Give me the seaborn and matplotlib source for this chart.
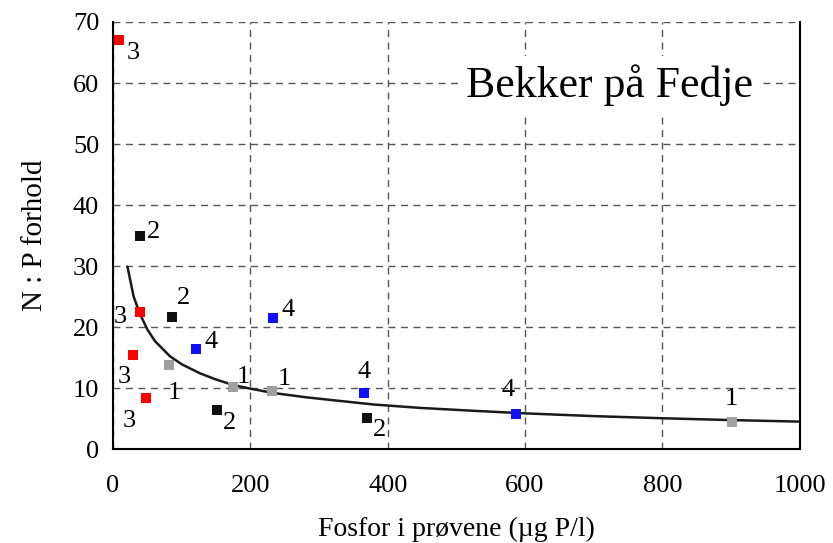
import numpy as np
import pandas as pd
import matplotlib
matplotlib.use('Agg')
import matplotlib.pyplot as plt
import seaborn as sns

# data
fosfor = [9, 39, 29, 48, 39, 86, 151, 370, 121, 233, 365, 587, 81, 175, 231, 901]
np_ratio = [67.0, 22.5, 15.4, 8.4, 34.9, 21.6, 6.4, 5.1, 16.4, 21.5, 9.2, 5.8, 13.8, 10.2, 9.5, 4.4]
bekk = ['3', '3', '3', '3', '2', '2', '2', '2', '4', '4', '4', '4', '1', '1', '1', '1']

# trend curve
curve_x = [21, 30, 39, 50, 61, 83, 100, 127, 150, 175, 200, 233, 280, 321, 380, 447, 520, 600, 700, 800, 900, 1000]
curve_y = [29.9, 25.0, 22.2, 19.6, 17.7, 15.2, 13.9, 12.4, 11.4, 10.5, 9.9, 9.2, 8.5, 8.0, 7.3, 6.75, 6.3, 5.85, 5.4, 5.05, 4.75, 4.5]

x_ticks = [0, 200, 400, 600, 800, 1000]
y_ticks = [0, 10, 20, 30, 40, 50, 60, 70]

# label offsets (points)
offsets = [(10, -9), (-14, -4), (-6, -16), (-12, -17),
           (10, 3), (8, 14), (9, -9), (9, -9),
           (11, 5), (11, 6), (0, 15), (-6, 17),
           (4, -20), (7, 7), (9, 9), (0, 17)]

df = pd.DataFrame({'Fosfor': fosfor, 'NP': np_ratio, 'Bekk': bekk})
pal = {'1': '#a0a0a0', '2': '#111111', '3': '#ff0000', '4': '#1010ff'}

sns.set_style('white')
plt.rcParams['font.family'] = ['Liberation Serif', 'DejaVu Serif']
plt.rcParams['text.color'] = 'black'
plt.rcParams['axes.labelcolor'] = 'black'
plt.rcParams['xtick.color'] = 'black'
plt.rcParams['ytick.color'] = 'black'

fig = plt.figure(figsize=(8.33, 5.43), dpi=100)
ax = fig.add_axes([0.1357, 0.173, 0.8243, 0.7865])

ax.grid(True, color='#555555', linestyle=(0, (5, 4)), linewidth=1.0)
ax.set_axisbelow(True)

sns.lineplot(x=curve_x, y=curve_y, ax=ax, color='#1a1a1a', linewidth=1.8, sort=True, zorder=3)
sns.scatterplot(data=df, x='Fosfor', y='NP', hue='Bekk', palette=pal, marker='s', s=55,
                linewidth=0, ax=ax, legend=False, zorder=4)

for i in range(len(df)):
    ax.annotate(df['Bekk'][i], (df['Fosfor'][i], df['NP'][i]), xytext=offsets[i],
                textcoords='offset points', ha='center', va='center', fontsize=19, zorder=5)

ax.set_xlim(0, 1000)
ax.set_ylim(0, 70)
ax.set_xticks(x_ticks)
ax.set_yticks(y_ticks)
ax.tick_params(labelsize=19, length=0)
ax.tick_params(axis='x', pad=19)
ax.tick_params(axis='y', pad=10)
ax.set_xlabel('Fosfor i prøvene (µg P/l)', fontsize=20, labelpad=14)
ax.set_ylabel('N : P forhold', fontsize=21, labelpad=18)

for s in ['left', 'bottom', 'right']:
    ax.spines[s].set_color('black')
    ax.spines[s].set_linewidth(1.5)
    ax.spines[s].set_zorder(6)
ax.spines['top'].set_visible(False)

ax.text(0.932, 0.852, 'Bekker på Fedje', transform=ax.transAxes, ha='right', va='center',
        fontsize=31.5, bbox=dict(facecolor='white', edgecolor='none', pad=6), zorder=6)

fig.savefig('out.png', dpi=100)
